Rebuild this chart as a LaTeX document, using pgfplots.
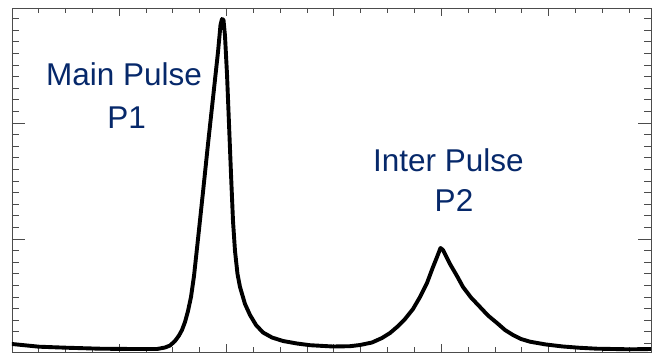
\documentclass[border=0pt]{standalone}
\usepackage{pgfplots}
\pgfplotsset{compat=1.18}
\usepackage{fontspec}
\setmainfont{Liberation Sans}
\definecolor{navy}{HTML}{06286A}
\begin{document}
\begin{tikzpicture}
\path[use as bounding box] (-12pt,-2pt) rectangle (640pt,352pt);
\begin{axis}[
  scale only axis, width=639pt, height=344pt,
  xmin=12, xmax=651, ymin=2, ymax=346,
  axis line style={black!70, line width=0.8pt},
  xtick={119,226.4,333.8,441.2,548.6},
  minor xtick={38.4,65.2,92.1,146,172.7,199.6,253.3,280,307,360.7,387.5,414.4,468,495,521.8,575.5,602.3,629.2},
  ytick={115,231},
  minor ytick={10.6,22.2,33.8,45.4,57,68.6,80.2,91.8,103.4,126.6,138.2,149.8,161.4,173,184.6,196.2,207.8,219.4,242.6,254.2,265.8,277.4,289,300.6,312.2,323.8,335.4},
  xticklabels={}, yticklabels={},
  tick align=inside,
  xtick pos=both, ytick pos=both,
  major tick length=8pt, minor tick length=5pt,
  ytick style={/pgfplots/major tick length=13pt, /pgfplots/minor tick length=7pt},
  tick style={black!70, line width=0.8pt},
  clip=true,
]
\addplot[black, line width=3.9pt, line join=round, line cap=round] coordinates {
(12,10) (39,7.3) (66,6.3) (100,5.3) (133,5) (157,5) (165,6.5) (170,8.5)
(175,13) (179,18.5) (182,24) (185,32) (188,43) (191,57) (194,78) (198,115) (203,162) (208,210) (213,256)
(218,302) (220.5,329) (222,335) (223.5,334) (225,318) (227,280) (229,230) (231,180)
(233,133) (235,103) (237.5,80) (240,67) (245,50) (250,39) (256,29) (263,21.5) (272,16.5)
(283,13) (297,10.5) (310,8.8) (333,7.5) (350,7.8) (360,9) (372,11.5) (382,16) (390,21)
(397,27) (405,35) (413,45) (420,57) (427,71) (433,87) (437,97) (440.5,106)
(443,104) (450,90) (457,78) (463,67) (471,56.5) (480,47) (488,38.5) (497,31)
(505,24) (513,19) (521,15) (530,12.3) (546,9.5) (563,7.5) (580,6.2) (597,5.3)
(630,4.7) (651,5)
};
\node[navy, anchor=base, font=\fontsize{31.5}{38}\selectfont] at (axis cs:124,268) {Main Pulse};
\node[navy, anchor=base, font=\fontsize{31.5}{38}\selectfont] at (axis cs:126.7,225.7) {P1};
\node[navy, anchor=base, font=\fontsize{31.5}{38}\selectfont] at (axis cs:448.3,182.3) {Inter Pulse};
\node[navy, anchor=base, font=\fontsize{31.5}{38}\selectfont] at (axis cs:454,142.3) {P2};
\end{axis}
\end{tikzpicture}
\end{document}
